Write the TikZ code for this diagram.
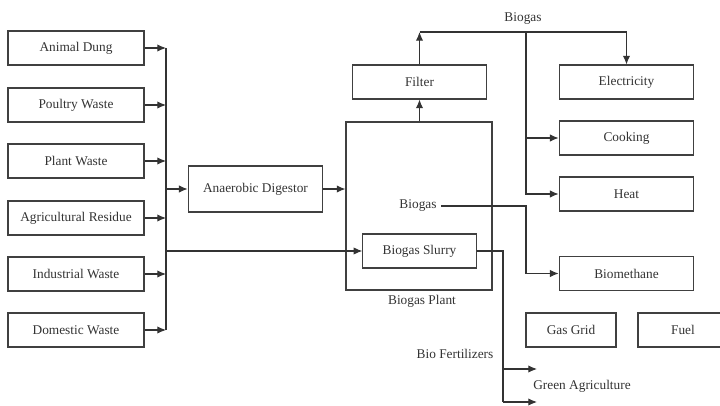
\documentclass[tikz,border=0pt]{standalone}
\usepackage{fontspec}
\setmainfont{Liberation Serif}
\usetikzlibrary{arrows.meta}

\begin{document}
\begin{tikzpicture}[x=0.75pt,y=-0.75pt,
	every node/.style={align=center,font=\rmfamily\fontsize{10}{12}\selectfont,text=black!80},
	box/.style={draw=black!75,line width=0.8pt,minimum width=102pt,minimum height=25.5pt,inner sep=0pt},
	flow/.style={draw=black!80,line width=0.8pt,-{Latex[length=6.5pt,width=5.5pt]}},
	wire/.style={draw=black!80,line width=0.8pt}]
	\useasboundingbox (0,0) rectangle (720,406);
	% sources
	\node [box] (dung) at (76,48) {Animal Dung};
	\node [box] (poultry) at (76,105) {Poultry Waste};
	\node [box] (plantw) at (76,161) {Plant Waste};
	\node [box] (agri) at (76,218) {Agricultural Residue};
	\node [box] (indus) at (76,274) {Industrial Waste};
	\node [box] (domestic) at (76,330) {Domestic Waste};
	\coordinate (bustop) at (166,48);
	\coordinate (busbot) at (166,330);
	\coordinate (busdig) at (166,189);
	\coordinate (busslurry) at (166,251);
	% plant
	\node [box,minimum width=101pt,minimum height=34.5pt] (digestor) at (255.5,189) {Anaerobic Digestor};
	\node [box,minimum width=109.5pt,minimum height=126pt] (plant) at (419,206) {};
	\node (bgin) at (418,206) {Biogas};
	\node [box,minimum width=85pt] (slurry) at (419.5,251) {Biogas Slurry};
	\node (plantlbl) at (422,301) {Biogas Plant};
	\node [box,minimum width=101pt] (filter) at (419.5,82) {Filter};
	\coordinate (filtertop) at (419.5,32);
	\coordinate (split) at (526,32);
	\node (bgtop) at (523,19) {Biogas};
	% uses
	\node [box,minimum width=101pt] (elec) at (626.5,82) {Electricity};
	\node [box,minimum width=101pt] (cook) at (626.5,138) {Cooking};
	\node [box,minimum width=101pt] (heat) at (626.5,194) {Heat};
	\node [box,minimum width=101pt] (biometh) at (626.5,273.5) {Biomethane};
	\node [box,minimum width=67.5pt] (grid) at (571,330) {Gas Grid};
	\node [box,minimum width=67.5pt] (fuel) at (683,330) {Fuel};
	\node (fert) at (455,354) {Bio Fertilizers};
	\node (green) at (582,386) {Green Agriculture};
	\coordinate (slurrybend) at (503,251);
	\coordinate (fertend) at (537,369);
	\coordinate (greenend) at (537,402);
	% connectors
	\foreach \src in {dung,poultry,plantw,agri,indus,domestic}
		\path [flow] (\src.east) -- (\src.east -| bustop);
	\path [wire] (bustop) -- (busbot);
	\path [flow] (busdig) -- (digestor.west);
	\path [flow] (digestor.east) -- (digestor.east -| plant.west);
	\path [flow] (busslurry) -- (slurry.west);
	\path [flow] (plant.north -| filter.south) -- (filter.south);
	\path [flow] (filter.north) -- (filtertop);
	\path [flow] (filtertop) -| (elec.north);
	\path [flow] (split) |- (heat.west);
	\path [flow] (split |- cook.west) -- (cook.west);
	\path [flow] (bgin.east) -| (split |- bgin.east) |- (biometh.west);
	\path [wire] (slurry.east) -- (slurrybend) -- (slurrybend |- greenend);
	\path [flow] (slurrybend |- fertend) -- (fertend);
	\path [flow] (slurrybend |- greenend) -- (greenend);
\end{tikzpicture}
\end{document}
